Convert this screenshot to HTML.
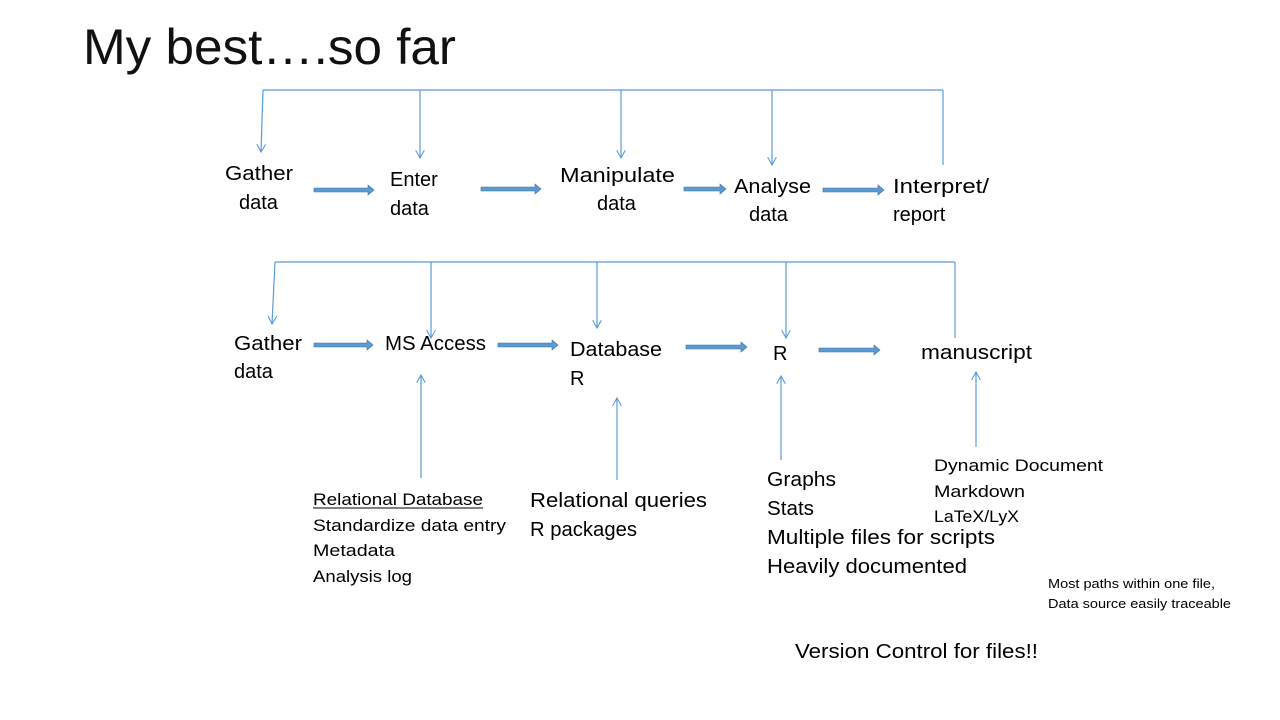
<!DOCTYPE html>
<html><head><meta charset="utf-8"><style>
html,body{margin:0;padding:0;background:#fff;}
svg{display:block;font-family:"Liberation Sans",sans-serif;}
</style></head><body>
<svg width="1280" height="720" viewBox="0 0 1280 720" xmlns="http://www.w3.org/2000/svg">
<defs>
<marker id="a" viewBox="0 0 10 10" refX="9" refY="5" markerWidth="9" markerHeight="9" orient="auto" markerUnits="userSpaceOnUse">
<path d="M0,0 L9,5 L0,10" fill="none" stroke="#5b9bd5" stroke-width="1.2"/></marker>
</defs>
<text x="83" y="64" font-size="50" fill="#111" textLength="373" lengthAdjust="spacingAndGlyphs">My best….so far</text>
<g stroke="#5b9bd5" stroke-width="1.2" fill="none">
<path d="M263,90 H943"/>
<path d="M263,90 L261,152" marker-end="url(#a)"/>
<path d="M420,90 V158" marker-end="url(#a)"/>
<path d="M621,90 V158" marker-end="url(#a)"/>
<path d="M772,90 V165" marker-end="url(#a)"/>
<path d="M943,90 V165"/>
<path d="M275,262 H955"/>
<path d="M275,262 L272,324" marker-end="url(#a)"/>
<path d="M431,262 V338" marker-end="url(#a)"/>
<path d="M597,262 V328" marker-end="url(#a)"/>
<path d="M786,262 V338" marker-end="url(#a)"/>
<path d="M955,262 V338"/>
<path d="M421,478 V375" marker-end="url(#a)"/>
<path d="M617,480 V398" marker-end="url(#a)"/>
<path d="M781,460 V376" marker-end="url(#a)"/>
<path d="M976,447 V372" marker-end="url(#a)"/>
</g>
<g fill="#5b9bd5" stroke="#41719c" stroke-width="0.6">
<path d="M314,188 H368 V185 L374,190 L368,195 V192 H314Z"/>
<path d="M481,187 H535 V184 L541,189 L535,194 V191 H481Z"/>
<path d="M684,187 H720 V184 L726,189 L720,194 V191 H684Z"/>
<path d="M823,188 H878 V185 L884,190 L878,195 V192 H823Z"/>
<path d="M314,343 H367 V340 L373,345 L367,350 V347 H314Z"/>
<path d="M498,343 H552 V340 L558,345 L552,350 V347 H498Z"/>
<path d="M686,345 H741 V342 L747,347 L741,352 V349 H686Z"/>
<path d="M819,348 H874 V345 L880,350 L874,355 V352 H819Z"/>
</g>
<g fill="#000" font-size="20">
<text x="225" y="180" textLength="68" lengthAdjust="spacingAndGlyphs">Gather</text>
<text x="239" y="209">data</text>
<text x="390" y="186">Enter</text>
<text x="390" y="215">data</text>
<text x="560" y="182" textLength="115" lengthAdjust="spacingAndGlyphs">Manipulate</text>
<text x="597" y="210">data</text>
<text x="734" y="193" textLength="77" lengthAdjust="spacingAndGlyphs">Analyse</text>
<text x="749" y="221">data</text>
<text x="893" y="193" textLength="96" lengthAdjust="spacingAndGlyphs">Interpret/</text>
<text x="893" y="221">report</text>
<text x="234" y="350" textLength="68" lengthAdjust="spacingAndGlyphs">Gather</text>
<text x="234" y="378">data</text>
<text x="385" y="350" textLength="101" lengthAdjust="spacingAndGlyphs">MS Access</text>
<text x="570" y="356" textLength="92" lengthAdjust="spacingAndGlyphs">Database</text>
<text x="570" y="385">R</text>
<text x="773" y="360">R</text>
<text x="921" y="359" textLength="111" lengthAdjust="spacingAndGlyphs">manuscript</text>
<text x="530" y="507" textLength="177" lengthAdjust="spacingAndGlyphs">Relational queries</text>
<text x="530" y="536" textLength="107" lengthAdjust="spacingAndGlyphs">R packages</text>
<text x="767" y="486" textLength="69" lengthAdjust="spacingAndGlyphs">Graphs</text>
<text x="767" y="515" textLength="47" lengthAdjust="spacingAndGlyphs">Stats</text>
<text x="767" y="544" textLength="228" lengthAdjust="spacingAndGlyphs">Multiple files for scripts</text>
<text x="767" y="573" textLength="200" lengthAdjust="spacingAndGlyphs">Heavily documented</text>
<text x="795" y="658" textLength="243" lengthAdjust="spacingAndGlyphs">Version Control for files!!</text>
</g>
<g fill="#000" font-size="17">
<text x="313" y="505" textLength="170" lengthAdjust="spacingAndGlyphs">Relational Database</text>
<path d="M313,508 H483" stroke="#000" stroke-width="1"/>
<text x="313" y="531" textLength="193" lengthAdjust="spacingAndGlyphs">Standardize data entry</text>
<text x="313" y="556" textLength="82" lengthAdjust="spacingAndGlyphs">Metadata</text>
<text x="313" y="582" textLength="99" lengthAdjust="spacingAndGlyphs">Analysis log</text>
<text x="934" y="471" textLength="169" lengthAdjust="spacingAndGlyphs">Dynamic Document</text>
<text x="934" y="497" textLength="91" lengthAdjust="spacingAndGlyphs">Markdown</text>
<text x="934" y="522" textLength="85" lengthAdjust="spacingAndGlyphs">LaTeX/LyX</text>
</g>
<g fill="#000" font-size="13">
<text x="1048" y="588" textLength="167" lengthAdjust="spacingAndGlyphs">Most paths within one file,</text>
<text x="1048" y="608" textLength="183" lengthAdjust="spacingAndGlyphs">Data source easily traceable</text>
</g>
</svg>
</body></html>
